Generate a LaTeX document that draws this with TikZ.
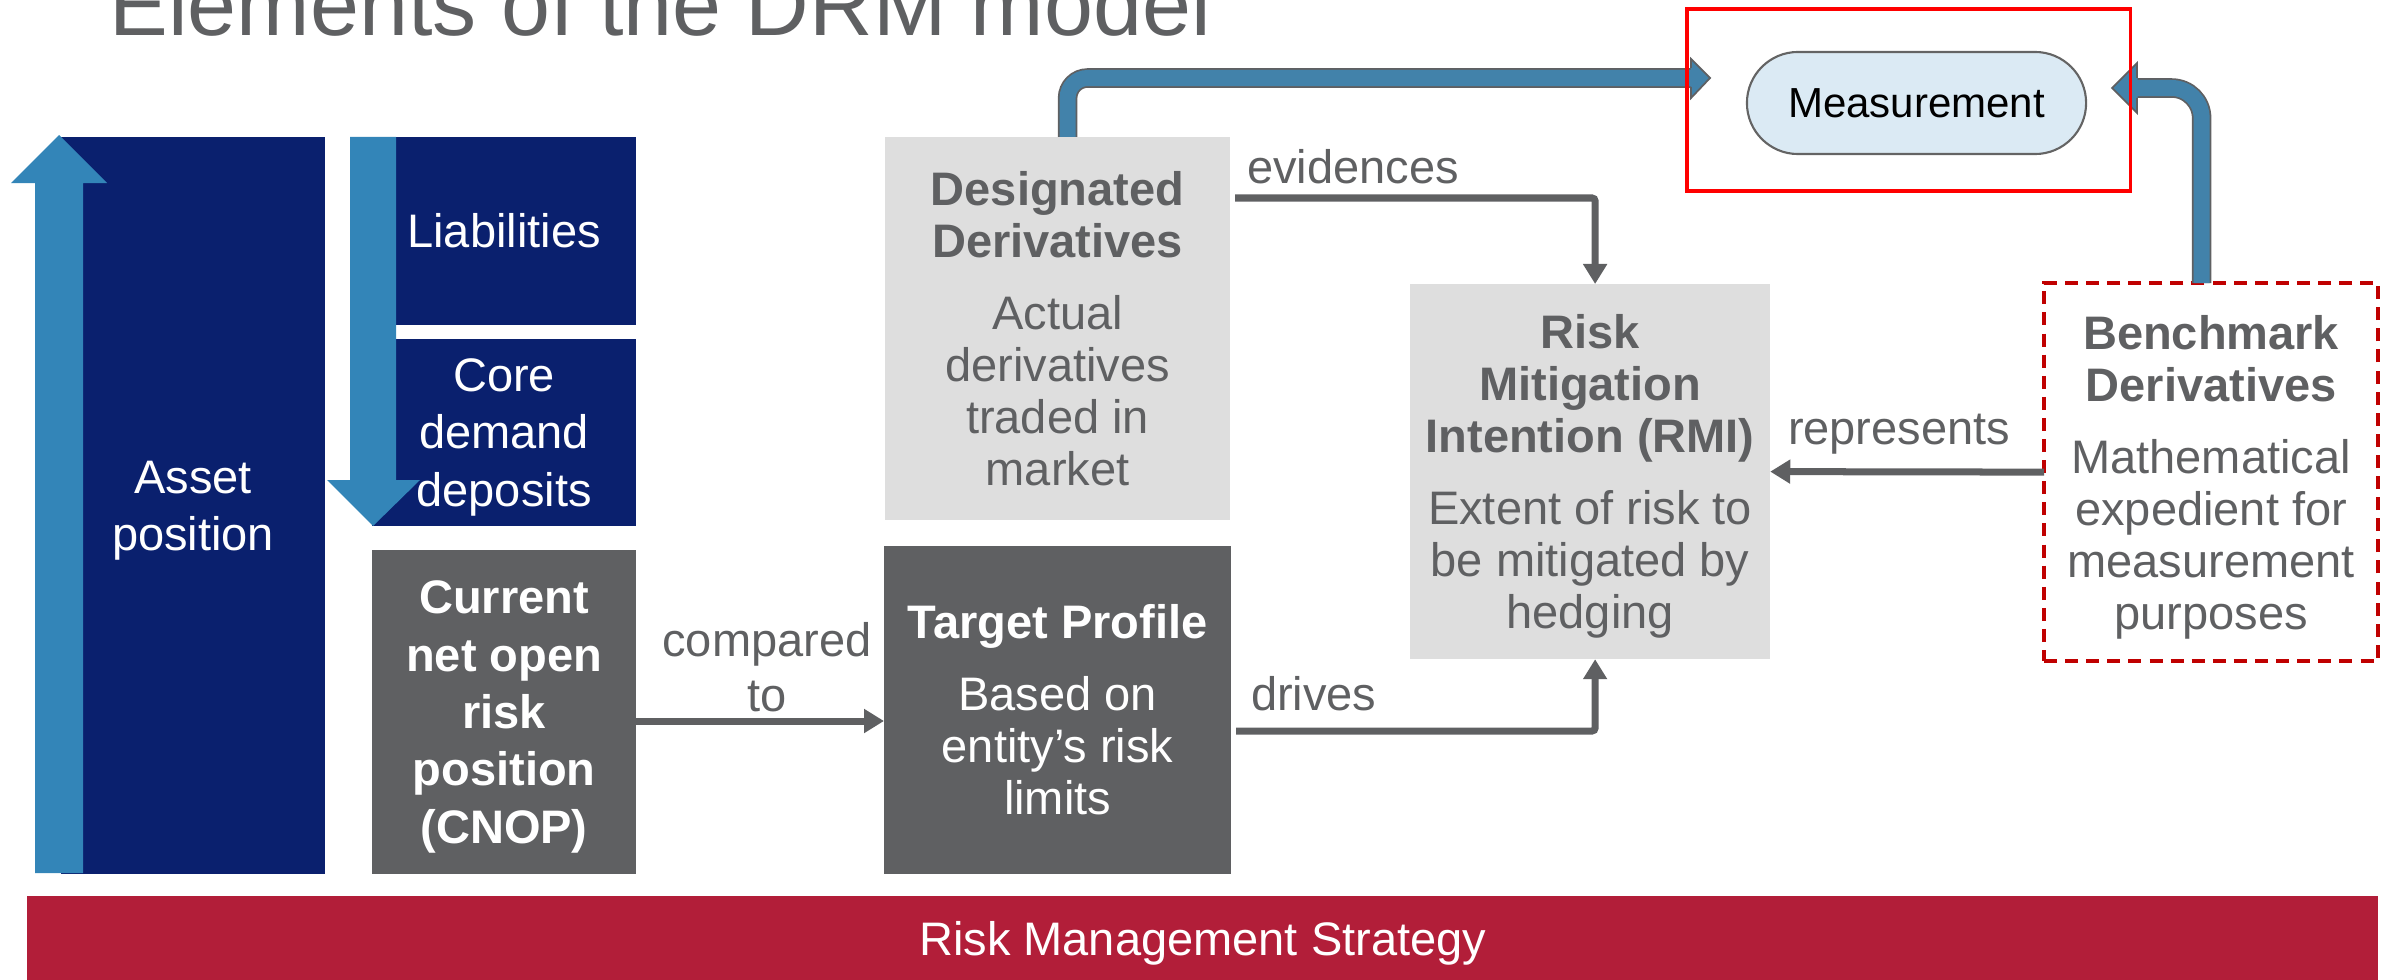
\documentclass[tikz,border=0pt]{standalone}
\usepackage{fontspec}
\setmainfont{Liberation Sans}
\usetikzlibrary{arrows.meta,calc}
\definecolor{navy}{RGB}{10,32,110}
\definecolor{lblue}{RGB}{51,133,184}
\definecolor{sblue}{RGB}{66,130,170}
\definecolor{dgray}{RGB}{95,96,98}
\definecolor{lgray}{RGB}{222,222,222}
\definecolor{barred}{RGB}{178,30,57}
\definecolor{pillfill}{RGB}{219,234,244}
\definecolor{pillline}{RGB}{100,100,100}
\definecolor{dred}{RGB}{192,0,0}
\begin{document}
\begin{tikzpicture}[x=0.01cm,y=-0.01cm,
  box/.style={inner sep=0pt, outer sep=0pt, align=center, anchor=north west},
  lfont/.style={font=\fontsize{13.37pt}{16.3pt}\selectfont},
  lbfont/.style={font=\fontsize{13.37pt}{16.3pt}\selectfont\bfseries},
  mfont/.style={font=\fontsize{13.37pt}{14.8pt}\selectfont},
  lab/.style={inner sep=0pt, outer sep=0pt, text=dgray, align=center, font=\fontsize{13.37pt}{15.65pt}\selectfont},
  conn/.style={draw=dgray, line width=0.07cm, rounded corners=0.03cm, -{Triangle[length=0.2cm,width=0.23cm]}},
  shaft/.style={draw=dgray, line width=0.5pt, double=sblue, double distance=0.16cm},
  outl/.style={draw=dgray, line width=0.5pt, line join=miter}]
\useasboundingbox (0,0) rectangle (2392,979);
\clip (0,0) rectangle (2392,979);

% title
\node[anchor=base west, inner sep=0pt, text=dgray, font=\fontsize{25.04pt}{30pt}\selectfont] (title) at (109,36) {Elements of the DRM model};

% left column
\node[box, fill=navy, text=white, lfont, text depth=0pt, minimum width=2.64cm, minimum height=7.37cm] (asset) at (61,137) {Asset\\position};
\node[box, fill=navy, text=white, lfont, minimum width=2.64cm, minimum height=1.88cm] (liab) at (372,137) {Liabilities};
\node[box, fill=navy, text=white, lfont, text depth=0pt, minimum width=2.64cm, minimum height=1.87cm] (core) at (372,339) {Core\\demand\\deposits};
\node[box, fill=dgray, text=white, lbfont, text depth=0pt, minimum width=2.64cm, minimum height=3.24cm] (cnop) at (372,550) {Current\\net open\\risk\\position\\(CNOP)};

% light blue position arrows
\fill[lblue] (35,873) -- (35,183) -- (11,183) -- (59,135) -- (107,183) -- (83,183) -- (83,873) -- cycle;
\fill[lblue] (350,137) -- (396,137) -- (396,480) -- (420,480) -- (373,526) -- (327,480) -- (350,480) -- cycle;

% middle and right boxes
\node[box, fill=lgray, text=dgray, mfont, minimum width=3.45cm, minimum height=3.83cm] (desig) at (885,137)
  {\textbf{Designated}\\\textbf{Derivatives}\\[5.69pt]Actual\\derivatives\\traded in\\market};
\node[box, fill=dgray, text=white, mfont, minimum width=3.47cm, minimum height=3.28cm] (target) at (884,546)
  {\textbf{Target Profile}\\[5.69pt]Based on\\entity’s risk\\limits};
\node[box, fill=lgray, text=dgray, mfont, text depth=0pt, minimum width=3.6cm, minimum height=3.75cm] (rmi) at (1410,284)
  {\textbf{Risk}\\\textbf{Mitigation}\\\textbf{Intention (RMI)}\\[5.69pt]Extent of risk to\\be mitigated by\\hedging};
\node[box, draw=dred, line width=1.1pt, dash pattern=on 3.7pt off 2.3pt, text=dgray, mfont, text depth=0pt, minimum width=3.34cm, minimum height=3.78cm] (bench) at (2044,283)
  {\textbf{Benchmark}\\\textbf{Derivatives}\\[5.69pt]Mathematical\\expedient for\\measurement\\purposes};

% bottom bar
\node[box, fill=barred, text=white, mfont, text depth=0pt, minimum width=23.5cm, minimum height=0.84cm] (rms) at (27,896) {Risk Management Strategy};

% measurement
\node[inner sep=0pt, fill=pillfill, draw=pillline, line width=0.6pt, rounded corners=0.51cm, minimum width=3.39cm, minimum height=1.02cm, font=\fontsize{11.95pt}{14pt}\selectfont] (meas) at (1916.5,103) {Measurement};

% helper coordinates
\coordinate (cmpy) at (0,721);
\coordinate (evy) at (0,198);
\coordinate (drvy) at (0,731);
\coordinate (lhead) at (1691,78);
\coordinate (rhead) at (2137,88);

% grey connectors
\draw[conn] (cnop.east |- cmpy) -- (target.west |- cmpy);
\draw[conn] ($(desig.east |- evy)+(5,0)$) -| ($(rmi.north)+(5,0)$);
\draw[conn] ($(target.east |- drvy)+(5,0)$) -| ($(rmi.south)+(5,0)$);
\draw[conn] (bench.west) -- (rmi.east);

% labels
\node[lab, anchor=center] (cmplab) at (767,667.5) {compared\\to};
\node[lab, anchor=base west] (evlab) at (1247,183) {evidences};
\node[lab, anchor=base west] (drlab) at (1251,710) {drives};
\node[lab, anchor=base west] (replab) at (1788,444) {represents};

% blue measurement arrows
\draw[shaft, rounded corners=0.2cm] ($(desig.north)+(10,0)$) |- (lhead);
\fill[sblue] (1690.5,59) -- (1710,78) -- (1690.5,98) -- cycle;
\draw[outl] (1691,68) -- (1691,59) -- (1710,78) -- (1691,98) -- (1691,87);

\draw[shaft, rounded corners=0.3cm] ($(bench.north)+(-9.5,0)$) |- (rhead);
\fill[sblue] (2137.5,63) -- (2112,88) -- (2137.5,113) -- cycle;
\draw[outl] (2137,78) -- (2137,63) -- (2112,88) -- (2137,113) -- (2137,98);

% red frame
\node[box, draw=red, line width=1pt, minimum width=4.43cm, minimum height=1.82cm] (measbox) at (1687,9) {};
\end{tikzpicture}
\end{document}
